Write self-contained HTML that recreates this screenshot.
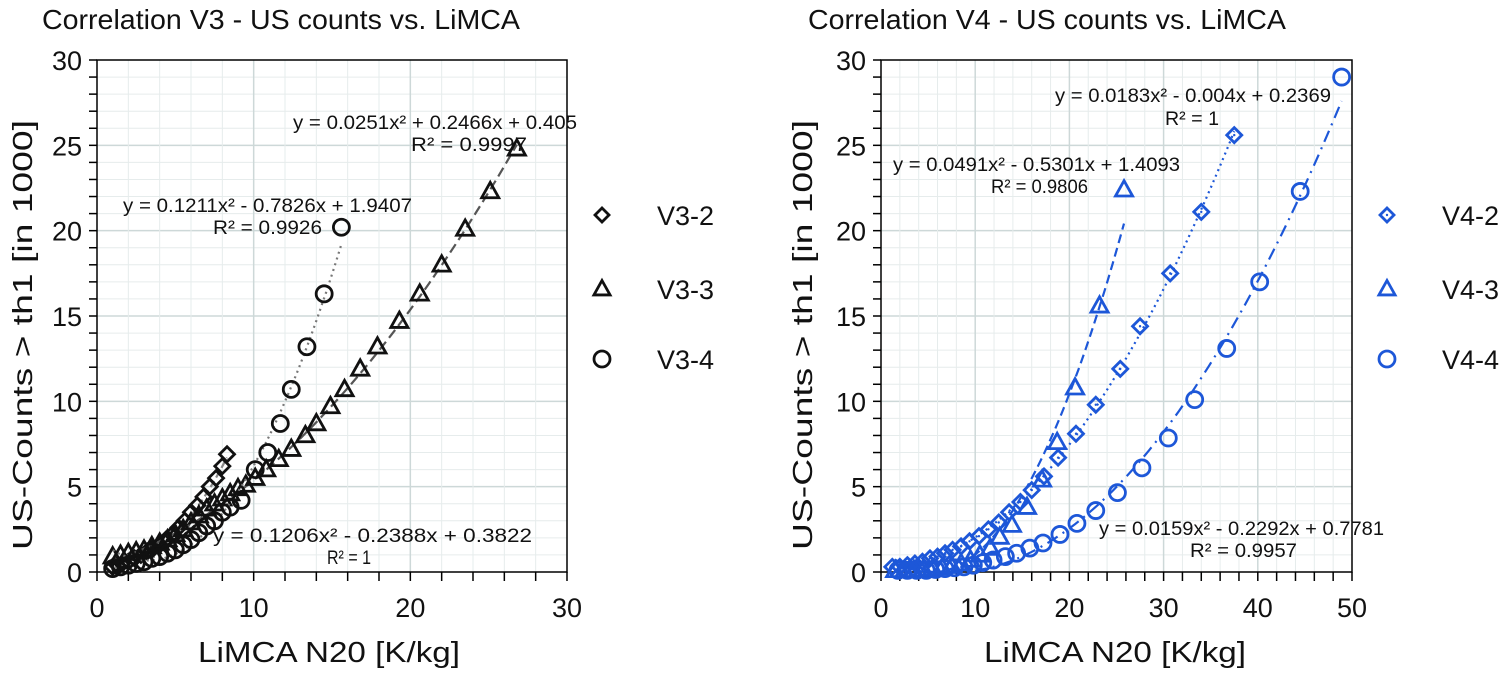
<!DOCTYPE html>
<html><head><meta charset="utf-8"><style>
html,body{margin:0;padding:0;background:#fff;}
svg{display:block;font-family:"Liberation Sans",Arial,sans-serif;}
</style></head><body>
<svg id="svg" width="1504" height="673" viewBox="0 0 1504 673" xmlns="http://www.w3.org/2000/svg"></svg>
<script>
// ---- data: left chart (V3) ----
const v32x=[1.0,1.3,1.6,2.0,2.4,2.8,3.2,3.6,4.0,4.4,4.8,5.2,5.6,6.0,6.4,6.8,7.2,7.6,8.0,8.3];
const v32y=[0.3,0.4,0.5,0.6,0.8,1.0,1.2,1.4,1.6,1.9,2.2,2.6,3.0,3.5,3.9,4.4,5.0,5.5,6.2,6.9];
const v33x=[1.0,1.5,2,2.5,3,3.5,4,4.5,5,5.5,6,6.5,7,7.5,8,8.5,9,9.5,10.1,10.8,11.6,12.4,13.3,14,14.9,15.8,16.8,17.9,19.3,20.6,22.0,23.5,25.1,26.8];
const v33y=[0.9,1.0,1.1,1.2,1.3,1.5,1.7,1.9,2.2,2.5,2.9,3.3,3.7,4.0,4.3,4.6,4.9,5.1,5.5,6.0,6.6,7.2,8.0,8.7,9.7,10.7,11.9,13.2,14.7,16.3,18.0,20.1,22.3,24.8];
const v34x=[1.0,1.5,2,2.5,3,3.5,4,4.5,5,5.5,6,6.5,7,7.5,8,8.5,9.2,10.1,10.9,11.7,12.4,13.4,14.5,15.6];
const v34y=[0.2,0.3,0.4,0.5,0.6,0.8,0.9,1.1,1.3,1.6,1.9,2.3,2.7,3.0,3.5,3.8,4.2,6.0,7.0,8.7,10.7,13.2,16.3,20.2];
const coefV32=[0.1206,-0.2388,0.3822];
const coefV33=[0.0251,0.2466,0.405];
const coefV34=[0.1211,-0.7826,1.9407];
// ---- data: right chart (V4) ----
const v42x=[1.2,2,2.8,3.6,4.4,5.2,6,6.8,7.6,8.5,9.4,10.4,11.4,12.5,13.6,14.8,16,17.3,18.8,20.7,22.8,25.4,27.5,30.7,34.0,37.5];
const v42y=[0.3,0.3,0.4,0.5,0.6,0.8,0.9,1.1,1.3,1.5,1.8,2.1,2.5,2.9,3.5,4.1,4.8,5.6,6.7,8.1,9.8,11.9,14.4,17.5,21.1,25.6];
const v43x=[1.5,2.5,3.5,4.5,5.5,6.5,7.5,8.5,9.5,10.5,11.6,12.6,13.9,15.5,17.1,18.7,20.6,23.2,25.8];
const v43y=[0.1,0.1,0.1,0.15,0.2,0.25,0.35,0.5,0.7,1.0,1.4,2.05,2.75,3.8,5.4,7.6,10.8,15.6,22.4];
const v44x=[1.8,2.8,3.8,4.8,5.8,6.8,7.8,8.8,9.8,10.8,11.9,13.2,14.4,15.8,17.2,19.0,20.8,22.8,25.1,27.7,30.5,33.3,36.7,40.2,44.5,48.9];
const v44y=[0.1,0.1,0.1,0.1,0.15,0.2,0.25,0.3,0.4,0.55,0.7,0.9,1.1,1.4,1.7,2.2,2.85,3.6,4.65,6.1,7.85,10.1,13.1,17.0,22.3,29.0];
const coefV42=[0.0183,-0.004,0.2369];
const coefV43=[0.0491,-0.5301,1.4093];
const coefV44=[0.0159,-0.2292,0.7781];
const yTicks=[0,5,10,15,20,25,30];
const xTicksL=[0,10,20,30];
const xTicksR=[0,10,20,30,40,50];

const NS='http://www.w3.org/2000/svg';
const svg=document.getElementById('svg');
function el(tag,attrs,parent){const e=document.createElementNS(NS,tag);for(const k in attrs)e.setAttribute(k,attrs[k]);(parent||svg).appendChild(e);return e;}
function txt(s,attrs,parent){const t=el('text',attrs,parent);t.textContent=s;return t;}

function makeChart(cfg){
  const g=el('g',{});
  
  
  const X=v=>cfg.x0+(v/cfg.xmax)*(cfg.x1-cfg.x0);
  const Y=v=>cfg.y0-(v/30)*(cfg.y0-cfg.y1);
  const grid=el('g',{},g);
  
  
  for(let v=1;v<30;v++){el('line',{x1:cfg.x0,x2:cfg.x1,y1:Y(v),y2:Y(v),stroke:v%5?'#e6ecec':'#cdd8d8','stroke-width':v%5?1:1.5},grid);}
  for(let v=2;v<cfg.xmax;v+=2){el('line',{y1:cfg.y0,y2:cfg.y1,x1:X(v),x2:X(v),stroke:v%10?'#e6ecec':'#cdd8d8','stroke-width':v%10?1:1.5},grid);}
  const fr=el('rect',{x:cfg.x0,y:cfg.y1,width:cfg.x1-cfg.x0,height:cfg.y0-cfg.y1,fill:'none',stroke:'#000','stroke-width':1.5},g);
  
  
  for(let v=0;v<=30;v++){el('line',{x1:cfg.x0-8,x2:cfg.x0,y1:Y(v),y2:Y(v),stroke:'#000','stroke-width':1.5},g);}
  for(let v=0;v<=cfg.xmax;v+=2){el('line',{x1:X(v),x2:X(v),y1:cfg.y0,y2:cfg.y0+9,stroke:'#000','stroke-width':1.5},g);}
  yTicks.forEach(v=>{const t=txt(String(v),{x:cfg.x0-15,y:Y(v)+10,'font-size':27,'text-anchor':'end',fill:'#111'},g);
    
    });
  cfg.xTicks.forEach(v=>{const t=txt(String(v),{x:X(v),y:cfg.y0+45,'font-size':27,'text-anchor':'middle',fill:'#111'},g);
    
    });
  const tt=txt(cfg.title,{x:cfg.titleX,y:29,'font-size':28,fill:'#111',textLength:478,lengthAdjust:'spacingAndGlyphs'},g);
  
  
  const yt=txt('US-Counts > th1  [in 1000]',{x:0,y:0,'font-size':28,'text-anchor':'middle',fill:'#111',textLength:430,lengthAdjust:'spacingAndGlyphs',transform:`translate(${cfg.yTitleX},335) rotate(-90)`,'xml:space':'preserve'},g);
  
  
  const xt=txt('LiMCA N20 [K/kg]',{x:cfg.xTitleX-131,y:662,'font-size':29,fill:'#111',textLength:262,lengthAdjust:'spacingAndGlyphs'},g);
  
  
  cfg.series.forEach(s=>{
    const sg=el('g',{},g);
    
    
    const xmin=s.xs[0], xmaxS=s.xs[s.xs.length-1];
    let d='';
    for(let i=0;i<=60;i++){const xv=xmin+(xmaxS-xmin)*i/60;const yv=s.c[0]*xv*xv+s.c[1]*xv+s.c[2];d+=(i?'L':'M')+X(xv).toFixed(1)+','+Y(yv).toFixed(1);}
    const tl=el('path',{d:d,fill:'none',stroke:s.lineColor,'stroke-width':2.2,'stroke-dasharray':s.dash},sg);
    
    
    s.xs.forEach((xv,i)=>{drawMarker(sg,s.marker,X(xv),Y(s.ys[i]),s.color,s.r);});
    drawMarker(sg,s.marker,cfg.legX,s.legY,s.color,s.legR);
    const lt=txt(s.label,{x:cfg.legX+55,y:s.legY+10,'font-size':27,fill:'#111'},sg);
    
    
  });
  cfg.eqs.forEach(e=>{
    const t=txt(e[0],{x:e[1],y:e[2],'font-size':19,fill:'#111',textLength:e[3],lengthAdjust:'spacingAndGlyphs'},g);
    
    
  });
}
function drawMarker(g,type,cx,cy,color,r){
  let m;
  if(type==='circle'){m=el('circle',{cx:cx,cy:cy,r:r,fill:'none',stroke:color,'stroke-width':2.8},g);}
  else if(type==='diamond'){m=el('path',{d:`M${cx},${cy-r}L${cx+r},${cy}L${cx},${cy+r}L${cx-r},${cy}Z`,fill:'none',stroke:color,'stroke-width':2.8},g);
    if(color!=='#111'){el('circle',{cx:cx,cy:cy,r:1.2,fill:color},g);}}
  else {m=el('path',{d:`M${cx},${cy-r}L${cx+r*0.95},${cy+r*0.7}L${cx-r*0.95},${cy+r*0.7}Z`,fill:'none',stroke:color,'stroke-width':2.8,'stroke-linejoin':'miter'},g);}
  if(m){
  }
}
const BLK='#111', BLUE='#1d57d8';
makeChart({name:'chart-v3',x0:97,x1:567,y0:572,y1:60,xmax:30,xTicks:xTicksL,title:'Correlation V3 - US counts vs. LiMCA',titleX:42,yTitleX:32,xTitleX:329,legX:602,
  series:[
    {name:'series-v3-2',label:'V3-2',xs:v32x,ys:v32y,c:coefV32,marker:'diamond',color:BLK,r:7.5,legR:7,legY:215,lineColor:'#888',dash:'7 4'},
    {name:'series-v3-3',label:'V3-3',xs:v33x,ys:v33y,c:coefV33,marker:'triangle',color:BLK,r:9,legR:8.5,legY:289,lineColor:'#555',dash:'10 5'},
    {name:'series-v3-4',label:'V3-4',xs:v34x,ys:v34y,c:coefV34,marker:'circle',color:BLK,r:8,legR:8,legY:359,lineColor:'#777',dash:'2 4'}],
  eqs:[['y = 0.0251x² + 0.2466x + 0.405',293,129,284],['R² = 0.9997',411,151,116],
       ['y = 0.1211x² - 0.7826x + 1.9407',123,212,289],['R² = 0.9926',213,234,109],
       ['y = 0.1206x² - 0.2388x + 0.3822',213,542,319],['R² = 1',327,564,44]]});
makeChart({name:'chart-v4',x0:881,x1:1352,y0:572,y1:60,xmax:50,xTicks:xTicksR,title:'Correlation V4 - US counts vs. LiMCA',titleX:808,yTitleX:812,xTitleX:1115,legX:1387,
  series:[
    {name:'series-v4-2',label:'V4-2',xs:v42x,ys:v42y,c:coefV42,marker:'diamond',color:BLUE,r:7.5,legR:7,legY:215,lineColor:BLUE,dash:'2 4'},
    {name:'series-v4-3',label:'V4-3',xs:v43x,ys:v43y,c:coefV43,marker:'triangle',color:BLUE,r:9,legR:8.5,legY:289,lineColor:BLUE,dash:'9 5'},
    {name:'series-v4-4',label:'V4-4',xs:v44x,ys:v44y,c:coefV44,marker:'circle',color:BLUE,r:8,legR:8,legY:359,lineColor:BLUE,dash:'12 6 2 6'}],
  eqs:[['y = 0.0183x² - 0.004x + 0.2369',1055,102,276],['R² = 1',1165,125,54],
       ['y = 0.0491x² - 0.5301x + 1.4093',893,171,287],['R² = 0.9806',991,193,97],
       ['y = 0.0159x² - 0.2292x + 0.7781',1099,535,285],['R² = 0.9957',1190,557,107]]});
</script>
</body></html>
